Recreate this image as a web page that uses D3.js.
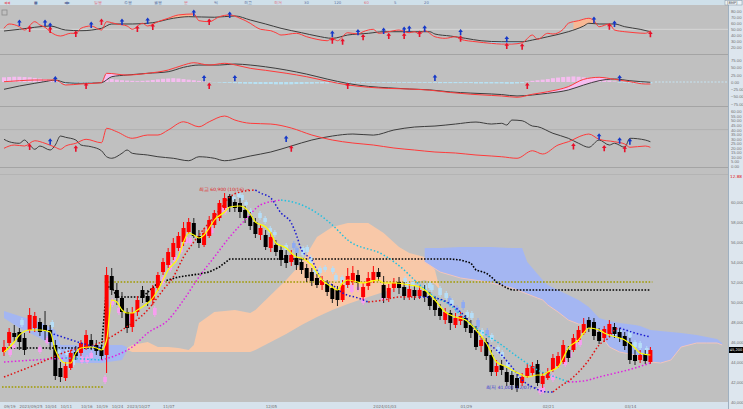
<!DOCTYPE html>
<html>
<head>
<meta charset="utf-8">
<title>일봉 차트</title>
<style>
  body { margin: 0; background: #c0c0c0; }
  svg { display: block; font-family: "DejaVu Sans", sans-serif; }
</style>
<script src="https://d3js.org/d3.v7.min.js"></script>
</head>
<body>
<svg id="chart"></svg>
<script>
// ---------- candles (price in units of 100 won) ----------
const opens = [450,459,469,470,464,472,474,480,477,472, 457,434,424,434,450,449,454,462,457,452,
  447,526,512,504,490,475,490,512,506,502, 514,530,537,545,554,560,570,579,566,557,
  566,577,584,594,606,600,599,592,586,580, 567,567,554,557,552,547,540,544,540,534,
  530,524,517,518,514,512,502,517,520,527, 505,516,522,530,517,504,514,520,515,505,
  512,506,511,506,502,494,482,489,477,481, 484,477,472,456,460,447,430,437,430,427,
  424,419,426,429,438,418,424,432,436,440, 452,452,462,469,482,480,470,464,468,475,
  470,466,460,447,442,448,440];
const closes = [455,470,465,460,452,487,486,470,471,460, 426,425,436,449,446,459,467,456,451,446,
  527,512,504,490,474,489,502,504,500,514, 527,540,550,559,566,574,580,566,559,569,
  582,589,599,604,595,594,590,584,576,568, 574,555,565,550,542,539,547,537,532,524,
  521,517,522,510,503,502,517,526,529,519, 515,524,530,525,504,514,519,514,506,513,
  506,512,505,496,492,486,490,479,484,486, 474,469,455,462,446,430,436,432,420,417,
  414,425,434,436,419,426,430,444,446,457, 444,464,472,478,474,466,461,473,478,468,
  464,456,442,441,447,441,452];
const highs = [462,474,477,474,469,494,490,484,491,477, 462,440,440,452,456,462,472,468,462,456,
  535,534,519,510,494,495,506,516,512,517, 530,544,554,564,570,580,584,584,572,574,
  586,592,602,609,608,603,604,596,590,584, 578,572,570,562,556,552,552,549,544,538,
  534,528,526,522,518,516,522,534,536,532, 519,530,536,534,526,518,524,525,520,518,
  516,516,517,510,506,498,494,492,489,490, 487,482,476,466,464,452,442,442,434,431,
  428,429,438,440,442,430,434,448,450,462, 456,468,476,484,485,484,474,476,482,479,
  474,470,464,452,452,452,455];
const lows = [446,456,460,452,447,469,470,466,462,452, 422,420,421,432,442,446,452,452,447,442,
  429,507,497,484,469,470,486,499,496,497, 511,527,534,542,551,556,568,564,554,555,
  564,574,581,592,590,590,584,579,572,564, 562,552,550,546,536,534,536,532,528,520,
  516,514,512,506,499,496,500,514,517,512, 502,512,519,521,499,500,510,508,502,502,
  502,503,500,492,486,482,478,472,474,477, 470,464,452,450,442,426,426,427,416,412,
  410,416,424,426,416,414,422,430,434,438, 440,450,460,467,470,462,458,460,465,464,
  460,452,438,437,439,438,438];

// small lagging crosses drawn around the candles: [index, upper, lower, kind]
const ghosts = [[1.2,452,447,'p'],[1.9,457,454,'p'],[3.5,482,477,'b'],[7.0,455,450,'p'],[8.4,464,459,'p'],[9.4,480,475,'b'],
  [10.7,452,449,'b'],[12.3,452,447,'b'],[12.7,440,434,'b'],[13.5,442,437,'b'],[15.2,445,440,'p'],[16.2,445,440,'p'],
  [17.0,449,444,'p'],[19.7,425,420,'p'],[21.1,502,497,'p'],[22.4,494,489,'p'],[24.2,487,480,'p'],[29.4,494,487,'p'],
  [31.0,525,519,'p'],[32.4,539,532,'p'],[33.3,547,540,'p'],[34.5,557,550,'p'],[35.5,565,559,'p'],[36.3,564,559,'p'],
  [39.8,574,567,'p'],[40.5,574,569,'p'],[42.3,595,590,'p'],[43.1,595,589,'p'],[44.8,605,602,'b'],[45.8,609,605,'b'],
  [46.4,607,602,'b'],[47.2,600,597,'b'],[48.1,592,589,'b'],[49.9,589,584,'b'],[50.9,584,580,'b'],[51.9,574,569,'b'],
  [52.8,570,567,'b'],[55.0,557,552,'b'],[56.5,559,554,'m'],[57.1,554,549,'m'],[58.3,554,547,'b'],[59.1,555,550,'b'],
  [59.8,545,539,'b'],[60.6,532,529,'b'],[61.6,534,529,'b'],[62.6,535,532,'b'],[64.1,534,530,'b'],[64.7,527,522,'b'],
  [65.9,525,519,'b'],[66.9,522,515,'b'],[67.8,517,510,'p'],[69.0,515,512,'p'],[70.0,504,499,'p'],[73.9,507,502,'p'],
  [78.2,524,520,'b'],[78.8,519,515,'b'],[79.7,520,517,'b'],[82.1,517,512,'b'],[83.0,519,514,'b'],[83.4,517,512,'b'],
  [85.0,514,507,'b'],[86.2,509,504,'b'],[86.9,504,497,'m'],[87.3,502,497,'b'],[88.3,495,490,'m'],[89.5,500,494,'m'],
  [90.3,490,485,'b'],[91.2,489,484,'b'],[92.4,482,475,'m'],[93.2,472,467,'b'],[94.2,472,467,'m'],[95.1,467,462,'b'],
  [96.3,455,450,'b'],[97.1,450,445,'b'],[98.2,440,435,'b'],[99.0,432,429,'b'],[100.2,425,422,'b'],[104.5,414,409,'p'],
  [105.1,415,410,'p'],[107.0,427,422,'p'],[109.4,442,437,'p'],[110.3,450,445,'p'],[111.3,462,455,'p'],[112.3,462,457,'p'],
  [119.1,474,467,'b'],[120.1,472,465,'b'],[122.0,470,465,'b'],[123.0,460,455,'b'],[124.0,459,454,'b'],[125.3,454,449,'b']];
const ghostColors = {p: '#f79ef0', b: '#b6def8', m: '#8eaaf2'};

// ---------- price overlays: [candle index, price] ----------
const ma5 = [[0,450],[2,460],[3,467],[5,472],[7,472],[9,470],[10,452],[12,439],[13,439],[14,449],[15,454],[17,455],
  [18,454],[19,452],[20,462],[21,502],[22,500],[23,492],[24,489],[25,489],[26,492],[28,499],[29,504],[30,512],
  [31,522],[32,532],[34,545],[35,560],[36,569],[37,567],[38,564],[39,567],[40,574],[41,582],[43,590],[44,595],
  [46,596],[47,594],[48,588],[49,580],[51,575],[52,569],[53,559],[55,554],[56,549],[57,545],[58,544],[60,537],
  [62,522],[64,515],[65,512],[66,519],[67,522],[70,519],[71,520],[73,522],[74,519],[76,519],[79,517],[81,515],
  [82,512],[84,502],[86,490],[88,485],[90,482],[92,472],[94,459],[96,440],[98,435],[99,432],[101,427],[102,425],
  [104,427],[105,427],[106,430],[108,435],[109,444],[110,454],[112,462],[113,469],[114,474],[116,472],[117,469],
  [118,467],[120,464],[121,462],[123,454],[124,449],[126,447]];
const ma20 = [[0,425],[6,437],[12,450],[19,460],[23,472],[28,492],[31,512],[33,525],[35,545],[37,560],[42,592],
  [44,605],[46,610],[49,612],[50,609],[52,604],[54,589],[56,579],[57,567],[58,552],[60,542],[62,522],[64,517],
  [66,509],[69,504],[71,500],[74,502],[77,505],[81,505],[84,504],[89,490],[93,465],[97,447],[99,435],[101,422],
  [103,415],[106,410],[107,410],[108,414],[111,425],[114,442],[116,457],[118,465],[119,472],[120,474],[123,469],[126,465]];
const ma60 = [[0,440],[6,442],[12,444],[19,442],[22,447],[25,455],[28,469],[32,482],[35,502],[38,525],[41,545],
  [44,565],[47,582],[50,597],[54,602],[57,599],[61,589],[64,577],[67,562],[74,547],[78,532],[80,522],[84,505],
  [87,497],[90,482],[97,457],[101,442],[104,432],[108,424],[110,420],[113,421],[116,425],[123,434],[126,439]];
const ma120 = [[9,469],[12,464],[15,459],[18,455],[19,454]];
const baseLine = [[0,454],[19,454],[20,515],[21,515],[22,505],[27,505],[30,519],[34,525],[38,528],[40,530],[42,535],
  [44,543],[87,543],[89,542],[91,539],[92,532],[94,529],[95,525],[96,520],[98,514],[99,512],[126,512]];
const levelLines = [[0,19,415],[20,126,520]];

// cloud shapes: [index, upper, lower]
const cloudBlueLeft = [[0,491,484],[3,486,474],[7,480,464],[10,472,454],[11,457,440],[15,457,439],[19,457,439],[23,457,442],[24,455,452]];
const cloudOrange = [[24,454,452],[25,457,450],[28,460,450],[30,455,450],[32,455,450],[34,454,450],[36,452,450],[37,457,450],
  [38,479,450],[41,490,450],[45,492,450],[48,489,450],[49,492,452],[52,507,460],[55,522,468],[58,539,477],[61,565,485],
  [64,575,492],[67,579,498],[71,579,505],[74,569,510],[77,555,515],[79,549,518],[82,545,522],[84,532,518],[85,512,512]];
const cloudBlueRight = [[82,554,540],[85,554,530],[89,555,524],[93,555,521],[95,555,519],[99,554,514],[101,554,510],
  [102,540,508],[104,528,504],[105,522,502],[106,517,497],[108,512,490],[110,507,482],[112,502,478],[114,495,477],
  [116,484,469],[118,481,455],[120,479,450],[123,477,447],[124,476,445],[126,472,440],[128,471,439],[130,470,442],
  [132,469,455],[135,467,459],[137,465,459],[139,463,459],[140,459,457]];

// ---------- stochastic panel ----------
const stochK = [[0,51.7],[1,59],[3,54.4],[4,48.8],[6,62.9],[7,57.3],[8,53.4],[9,45.9],[11,38.6],[13,43.2],[14,43.2],
  [15,51.7],[17,55.6],[19,48.8],[20,62.9],[21,61.2],[22,59],[24,55.6],[25,50],[27,60.2],[28,55.6],[30,62.9],[32,68.7],
  [34,74.3],[37,76],[38,64.6],[40,62.9],[42,71.4],[44,74.3],[46,68.7],[48,60.2],[49,54.4],[50,50],[52,47.6],[53,44.2],
  [54,40.3],[57,43.2],[59,37.4],[61,33],[63,30.6],[64,34.7],[65,30.6],[67,44.2],[69,42],[70,45.9],[72,50],[73,43.2],
  [75,45.9],[77,48.8],[79,44.2],[80,45.9],[81,42],[82,47.6],[84,37.4],[86,34.7],[88,37.4],[89,33],[92,28.9],[95,26.2],
  [97,25],[99,25],[101,27.2],[103,40.3],[104,33],[106,43.2],[107,42],[109,50],[110,60.2],[112,64.6],[114,68.7],
  [115,64.6],[116,54.4],[118,59],[119,48.8],[121,45.9],[123,44.2],[125,43.2],[126,47.6]];
const stochD = [[0,47.1],[3,50],[6,53.4],[9,55.6],[12,48.8],[15,47.6],[19,51.7],[21,59],[25,59],[29,61.2],[33,68.7],
  [36,71.4],[41,70.4],[45,72.6],[48,65.8],[51,59],[54,51.7],[58,44.2],[61,38.6],[64,34.7],[67,40.3],[71,43.2],[74,45.9],
  [77,45.9],[83,45.9],[84,42],[87,38.6],[90,34.7],[93,30.6],[97,28.9],[101,28.9],[103,31.8],[106,37.4],[110,45.9],
  [113,55.6],[114,60.2],[116,59],[119,59],[121,54.4],[124,50],[126,45.9]];
const stochSell = [[3,60.7],[8,60.7],[9,55.6],[17,57.3],[23,62.4],[28,64.1],[37,77.7],[44,74.3],[64,42],[69,44.9],[74,47.1],
  [78,48.8],[79,50.5],[82,51],[89,44.9],[98,33],[115,65.8],[119,59]];
const stochBuy = [[5,50.5],[9,48.8],[14,42],[19,62.4],[26,50.5],[29,53.9],[40,62.4],[64,30.6],[66,28.9],[70,36.4],[75,38.6],
  [78,38.6],[81,42],[89,34],[98,21.6],[101,20.4],[118,54.4],[126,41.5]];
// index ranges where the gap between %K and %D is shaded
const stochHotZones = [[32, 38], [41, 46], [111, 116]];
const stochColdZones = [[94, 102]];

// ---------- MACD panel ----------
const macdLine = [[0,-25],[3,-13.7],[6,-4.4],[9,4.4],[10,6.8],[12,-2.3],[15,-4.4],[19,-2.3],[21,18.1],[24,23.9],[28,29.8],
  [32,35.2],[35,50.3],[38,58.1],[42,58.1],[45,61.6],[48,58.1],[51,52],[55,41],[59,27],[63,10],[67,-5],[71,-15],[75,-20],
  [79,-24],[83,-27],[87,-34],[91,-38],[95,-41],[97,-43],[100,-47.9],[103,-44.5],[106,-38.6],[110,-27.4],[113,-10.3],
  [116,4.4],[119,10.3],[122,4.4],[126,-1]];
const macdSignal = [[0,1],[3,4.4],[6,6.8],[10,6.8],[12,-10.3],[15,-6.8],[19,-2.3],[20,29.8],[24,23.9],[28,29.8],[32,41],
  [35,58.1],[37,66],[40,58.1],[43,64],[46,54.7],[48,46.9],[51,40],[55,30],[59,18],[63,3],[67,-10],[71,-18],[75,-22],
  [79,-24],[83,-28],[87,-36],[91,-42],[95,-46],[97,-47.9],[100,-52.3],[103,-42],[106,-33.2],[110,-16],[113,9.2],
  [116,16],[119,9.2],[122,1],[125,-6.8],[126,-6.8]];
const macdHist = [16,17,18,18,17,16,14,12,10,7, 3,-4,-7,-8,-7,-6,-5,-4,-3,-2,
  8,10,8,6,5,4,3,4,5,7, 9,11,12,13,12,10,8,6,4,2,
  1,-1,-2,-3,-3,-4,-5,-6,-6,-7, -7,-7,-7,-8,-8,-8,-8,-7,-7,-6,
  -6,-5,-5,-5,-4,-4,-4,-4,-3,-3, -3,-3,-3,-3,-3,-3,-3,-3,-3,-3,
  -3,-3,-3,-3,-3,-4,-4,-4,-4,-4, -4,-4,-5,-5,-5,-5,-5,-5,-6,-6,
  -5,-4,2,4,6,8,10,13,15,17, 18,19,18,16,14,12,10,8,5,2,
  -2,-3,-4,-5,-5,-5,-5];
const macdFillZones = [[19, 24], [103, 120]];
const macdSell = [[10,9.2],[39,12.7],[45,12.7],[84,13.7],[120,12.7]];
const macdBuy = [[16,-13.7],[40,-13.7],[67,-13.7],[102,-13.7]];

// ---------- DMI panel ----------
const dmiMinus = [[0,29.4],[1,26.7],[3,25],[4,28.6],[5,23.1],[6,18.4],[7,22],[9,17.6],[10,23.1],[11,33],[12,31.6],[14,28.6],
  [15,23.1],[17,21.2],[19,16.8],[20,10.2],[21,8.5],[23,14],[24,17.6],[25,14],[28,12.1],[30,10.2],[33,8.5],[36,5.8],
  [38,10.2],[41,8.5],[43,5.8],[46,8.5],[48,11],[52,15.4],[56,22],[60,28.6],[64,33],[68,35.2],[72,34],[76,39.6],
  [80,42.9],[84,44],[88,46.2],[92,48.4],[95,46.2],[97,47],[98,45.1],[99,50.6],[101,49.8],[103,44],[104,43.3],[107,36],
  [110,30.5],[112,25],[114,20.6],[116,28.6],[118,23.1],[119,25],[121,20.6],[122,30.5],[125,28.6],[126,26.7]];
const dmiPlus = [[0,19.5],[2,23.1],[4,22],[6,27.8],[8,25],[10,20.6],[11,18.4],[12,22],[14,25],[16,29.4],[19,25.6],[20,41.5],
  [22,37.7],[25,30.5],[28,34.1],[30,34.1],[32,39.6],[35,48.7],[38,43.2],[40,48.7],[43,55],[45,50.6],[48,47],[52,46.2],
  [56,41.8],[60,34.1],[64,28.6],[68,25.3],[72,23.1],[76,19.8],[80,17.6],[84,15.4],[88,14.3],[92,12.1],[95,11],[97,10.2],
  [100,8.5],[103,16.8],[105,13.2],[108,23.1],[110,26.7],[113,34.1],[114,35.2],[116,29.4],[119,26.7],[121,24.2],
  [122,20.6],[125,22],[126,20.6]];
const dmiSell = [[9,26.7],[55,29.7],[116,32.2],[120,27.8],[122,26.7]];
const dmiBuy = [[5,21],[14,19],[56,19],[111,21.6],[117,19.5],[121,18.5]];

// ---------- axis labels ----------
const stochTicks = [80,70,60,50,40,30,20];
const macdTicks = [75,50,25,0,-25,-50,-75];
const dmiTicks = [60,55,50,45,40,35,30,25,20,15,10,5,0];
const priceTicks = [600,580,560,540,520,500,480,460,440,420,400];
const dateIdx = [0,3,8,11,15,18,21,24,31,51,72,89,105,121];
const dateLabels = ['09/19','2023/09/25','10/04','10/11','10/16','10/19','10/24','2023/10/27','11/07','12/05','2024/01/03','01/29','02/21','03/14'];
const toolbarLabels = ['◀◀','■','◀▶','일봉','주봉','월봉','분','틱','최고','최저','30','120','60','5','20'];

// ---------- layout ----------
const W = 743, H = 409, plotRight = 728;
const svg = d3.select('#chart').attr('width', W).attr('height', H);

const x = d3.scaleLinear().domain([0, 126]).range([4, 650.4]);
const yStoch = d3.scaleLinear().domain([50, 100]).range([29.3, -0.2]);
const yMacd = d3.scaleLinear().domain([0, 75]).range([82, 60.1]);
const yDmi = d3.scaleLinear().domain([0, 60]).range([166, 111.5]);
const yPrice = d3.scaleLinear().domain([400, 630]).range([402, 172]);

const panels = [
  {id: 'stoch', top: 5, bottom: 54},
  {id: 'macd', top: 55, bottom: 106},
  {id: 'dmi', top: 107, bottom: 167},
  {id: 'price', top: 169, bottom: 402}
];

svg.append('rect').attr('width', W).attr('height', H).attr('fill', '#c0c0c0');

const defs = svg.append('defs');
panels.forEach(p => {
  defs.append('clipPath').attr('id', 'clip-' + p.id)
    .append('rect').attr('x', 0).attr('y', p.top).attr('width', plotRight).attr('height', p.bottom - p.top);
});

// panel separators
[54.5, 106.5, 167.5].forEach(yy => {
  svg.append('line').attr('x1', 0).attr('x2', plotRight).attr('y1', yy).attr('y2', yy)
    .attr('stroke', '#a4a4a4').attr('stroke-width', 1.2);
});
svg.append('line').attr('x1', 0).attr('x2', plotRight).attr('y1', 174.5).attr('y2', 174.5)
  .attr('stroke', '#b4b4b4');
svg.append('line').attr('x1', 0).attr('x2', plotRight).attr('y1', yStoch(50)).attr('y2', yStoch(50))
  .attr('stroke', '#d6d6d6');
svg.append('line').attr('x1', 0).attr('x2', plotRight).attr('y1', yDmi(40)).attr('y2', yDmi(40))
  .attr('stroke', '#b0b0b0');
svg.append('line').attr('x1', 655).attr('x2', plotRight).attr('y1', yMacd(0)).attr('y2', yMacd(0))
  .attr('stroke', '#c6e4f2').attr('stroke-dasharray', '2,1.5');
svg.append('rect').attr('x', 2).attr('y', 10).attr('width', 5).attr('height', 5)
  .attr('fill', 'none').attr('stroke', '#8a8a8a').attr('stroke-width', 0.8);

// ---------- helpers ----------
const pts = (arr, ys) => arr.map(d => [x(d[0]), ys(d[1])]);
const lineGen = d3.line().curve(d3.curveMonotoneX);

function plain(g, arr, ys, color, width) {
  g.append('path').attr('d', lineGen(pts(arr, ys))).attr('fill', 'none')
    .attr('stroke', color).attr('stroke-width', width || 1);
}

// dotted line whose colour follows the slope direction
function trend(g, arr, upColor, downColor) {
  let run = [arr[0]];
  let dir = Math.sign(arr[1][1] - arr[0][1]) || 1;
  const flush = () => {
    g.append('path').attr('d', lineGen(pts(run, yPrice))).attr('fill', 'none')
      .attr('stroke', dir > 0 ? upColor : downColor).attr('stroke-width', 1.5)
      .attr('stroke-dasharray', '1.5,2.1');
  };
  for (let k = 1; k < arr.length; k++) {
    const d = Math.sign(arr[k][1] - arr[k - 1][1]) || dir;
    if (d !== dir) { flush(); run = [arr[k - 1]]; dir = d; }
    run.push(arr[k]);
  }
  flush();
}

function arrows(g, arr, ys, color) {
  g.selectAll(null).data(arr).join('path')
    .attr('transform', d => `translate(${x(d[0])},${ys(d[1])})`)
    .attr('d', 'M0,-3.4L2.3,-0.4L0.8,-0.4L0.8,3L-0.8,3L-0.8,-0.4L-2.3,-0.4Z')
    .attr('fill', color);
}

// shade where series a lies above series b, inside the given index zones
function fillBetween(g, a, b, ys, color, zones) {
  const at = (arr, i) => {
    for (let k = 1; k < arr.length; k++) {
      if (arr[k][0] >= i) {
        const t = (i - arr[k - 1][0]) / (arr[k][0] - arr[k - 1][0]);
        return arr[k - 1][1] + t * (arr[k][1] - arr[k - 1][1]);
      }
    }
    return arr[arr.length - 1][1];
  };
  const area = d3.area().curve(d3.curveMonotoneX).defined(d => d[1] > d[2])
    .x(d => x(d[0])).y0(d => ys(d[2])).y1(d => ys(d[1]));
  zones.forEach(z => {
    const grid = d3.range(z[0], z[1] + 0.01, 0.25);
    g.append('path').attr('d', area(grid.map(i => [i, at(a, i), at(b, i)]))).attr('fill', color);
  });
}

// ---------- stochastic ----------
const gS = svg.append('g').attr('clip-path', 'url(#clip-stoch)');
fillBetween(gS, stochK, stochD, yStoch, '#f7b894', stochHotZones);
fillBetween(gS, stochD, stochK, yStoch, '#a8dcf0', stochColdZones);
plain(gS, stochD, yStoch, '#3c3c3c', 1);
plain(gS, stochK, yStoch, '#ff3a3a', 1);
arrows(gS, stochSell, yStoch, '#1538c8');
arrows(gS, stochBuy, yStoch, '#e8102a');

// ---------- MACD ----------
const gM = svg.append('g').attr('clip-path', 'url(#clip-macd)');
gM.selectAll(null).data(macdHist).join('rect')
  .attr('x', (d, i) => x(i) - 2)
  .attr('width', 4)
  .attr('y', d => d > 0 ? yMacd(d) : yMacd(0))
  .attr('height', d => Math.abs(yMacd(d) - yMacd(0)))
  .attr('fill', d => d > 0 ? '#f6bdf0' : '#b8e2f4');
fillBetween(gM, macdSignal, macdLine, yMacd, '#f6bdf0', macdFillZones);
plain(gM, macdLine, yMacd, '#3c3c3c', 1);
plain(gM, macdSignal, yMacd, '#ff3a3a', 1);
arrows(gM, macdSell, yMacd, '#1538c8');
arrows(gM, macdBuy, yMacd, '#e8102a');

// ---------- DMI ----------
const gD = svg.append('g').attr('clip-path', 'url(#clip-dmi)');
plain(gD, dmiMinus, yDmi, '#3c3c3c', 1);
plain(gD, dmiPlus, yDmi, '#ff3a3a', 1);
arrows(gD, dmiSell, yDmi, '#1538c8');
arrows(gD, dmiBuy, yDmi, '#e8102a');

// ---------- price ----------
const gP = svg.append('g').attr('clip-path', 'url(#clip-price)');
const cloudArea = d3.area().curve(d3.curveLinear)
  .x(d => x(d[0])).y0(d => yPrice(d[2])).y1(d => yPrice(d[1]));
gP.append('path').attr('d', cloudArea(cloudBlueLeft)).attr('fill', '#a4b6f2');
gP.append('path').attr('d', cloudArea(cloudOrange)).attr('fill', '#f8c8a8');
gP.append('path').attr('d', cloudArea(cloudBlueRight)).attr('fill', '#a4b6f2');
gP.append('path').attr('d', d3.line().x(d => x(d[0])).y(d => yPrice(d[2]))(cloudBlueRight))
  .attr('fill', 'none').attr('stroke', '#f2c4bc').attr('stroke-width', 1);

levelLines.forEach(l => {
  gP.append('line').attr('x1', x(l[0]) - 2).attr('x2', x(l[1]) + 2)
    .attr('y1', yPrice(l[2])).attr('y2', yPrice(l[2]))
    .attr('stroke', '#a09a00').attr('stroke-width', 1.6).attr('stroke-dasharray', '1.6,1.6');
});
gP.append('path').attr('d', d3.line().x(d => x(d[0])).y(d => yPrice(d[1]))(baseLine))
  .attr('fill', 'none').attr('stroke', '#000').attr('stroke-width', 1.6).attr('stroke-dasharray', '1.6,1.6');

// lagging crosses
gP.selectAll('line.gwick').data(ghosts).join('line').attr('class', 'gwick')
  .attr('x1', d => x(d[0])).attr('x2', d => x(d[0]))
  .attr('y1', d => yPrice(d[1]) - 2).attr('y2', d => yPrice(d[2]) + 2)
  .attr('stroke', d => ghostColors[d[3]]).attr('stroke-width', 1);
gP.selectAll('rect.gbody').data(ghosts).join('rect').attr('class', 'gbody')
  .attr('x', d => x(d[0]) - 1.8).attr('width', 3.6)
  .attr('y', d => yPrice(d[1])).attr('height', d => yPrice(d[2]) - yPrice(d[1]))
  .attr('fill', d => ghostColors[d[3]]);

// candles
const idx = d3.range(opens.length);
gP.selectAll('line.wick').data(idx).join('line').attr('class', 'wick')
  .attr('x1', i => x(i)).attr('x2', i => x(i))
  .attr('y1', i => yPrice(highs[i])).attr('y2', i => yPrice(lows[i]))
  .attr('stroke', i => closes[i] >= opens[i] ? '#ff0000' : '#202020').attr('stroke-width', 1);
gP.selectAll('rect.body').data(idx).join('rect').attr('class', 'body')
  .attr('x', i => x(i) - 2).attr('width', 4)
  .attr('y', i => yPrice(Math.max(opens[i], closes[i])))
  .attr('height', i => Math.max(1, Math.abs(yPrice(opens[i]) - yPrice(closes[i]))))
  .attr('fill', i => closes[i] >= opens[i] ? '#ff0000' : '#000000');

trend(gP, ma60, '#e020e0', '#20c0e0');
trend(gP, ma20, '#e01010', '#1818d0');
trend(gP, ma120, '#e01010', '#1818d0');
plain(gP, ma5, yPrice, '#ffff00', 1.2);

gP.append('text').attr('x', x(38)).attr('y', yPrice(611)).attr('font-size', 4.5).attr('fill', '#e02020')
  .text('최고 60,900 (10/16) →');
gP.append('text').attr('x', x(94)).attr('y', yPrice(413)).attr('font-size', 4.5).attr('fill', '#3030d0')
  .text('최저 41,000 (12/07) →');

// ---------- frame: toolbar, right axis, date axis ----------
svg.append('rect').attr('x', 0).attr('y', 0).attr('width', W).attr('height', 5).attr('fill', '#cfe0ea');
svg.append('g').selectAll('text').data(toolbarLabels).join('text')
  .attr('x', (d, i) => 4 + i * 30).attr('y', 4).attr('font-size', 3.8)
  .attr('fill', (d, i) => i % 3 === 0 ? '#e07080' : '#6070a0').text(d => d);
svg.append('rect').attr('x', plotRight).attr('y', 5).attr('width', W - plotRight).attr('height', H - 5).attr('fill', '#dde6ee');
svg.append('line').attr('x1', plotRight + 0.5).attr('x2', plotRight + 0.5).attr('y1', 5).attr('y2', H)
  .attr('stroke', '#9fb0c0');
svg.append('rect').attr('x', 725).attr('y', 0.5).attr('width', 17).attr('height', 4.5)
  .attr('fill', '#eef3f7').attr('stroke', '#8090a0').attr('stroke-width', 0.5);
svg.append('text').attr('x', 727).attr('y', 4).attr('font-size', 3.6).attr('fill', '#404040').text('[8MP]');

function rightAxis(scale, ticks, fmt) {
  const g = svg.append('g').attr('transform', `translate(${plotRight + 1},0)`)
    .call(d3.axisRight(scale).tickValues(ticks).tickSize(0).tickPadding(2).tickFormat(fmt));
  g.select('.domain').remove();
  g.selectAll('text').attr('font-size', 4.2).attr('fill', '#707070');
}
rightAxis(yStoch, stochTicks, d3.format('.2f'));
rightAxis(yMacd, macdTicks, d3.format('.2f'));
rightAxis(yDmi, dmiTicks, d3.format('.2f'));
rightAxis(yPrice, priceTicks, d => d3.format(',')(d * 100));

const last = closes.length - 1;
svg.append('rect').attr('x', plotRight + 1).attr('y', yPrice(closes[last]) - 3).attr('width', 14).attr('height', 6).attr('fill', '#000');
svg.append('text').attr('x', plotRight + 1.8).attr('y', yPrice(closes[last]) + 1.4).attr('font-size', 3.6).attr('fill', '#fff')
  .text(d3.format(',')(closes[last] * 100));
svg.append('text').attr('x', plotRight + 2).attr('y', 178).attr('font-size', 4.2).attr('fill', '#e02020').text('12.88');

svg.append('rect').attr('x', 0).attr('y', 402).attr('width', plotRight).attr('height', 7).attr('fill', '#d6e2ec');
svg.append('g').selectAll('text').data(dateIdx).join('text')
  .attr('x', d => x(d)).attr('y', 407.5).attr('font-size', 4).attr('fill', '#707070')
  .text((d, i) => dateLabels[i]);
</script>
</body>
</html>
